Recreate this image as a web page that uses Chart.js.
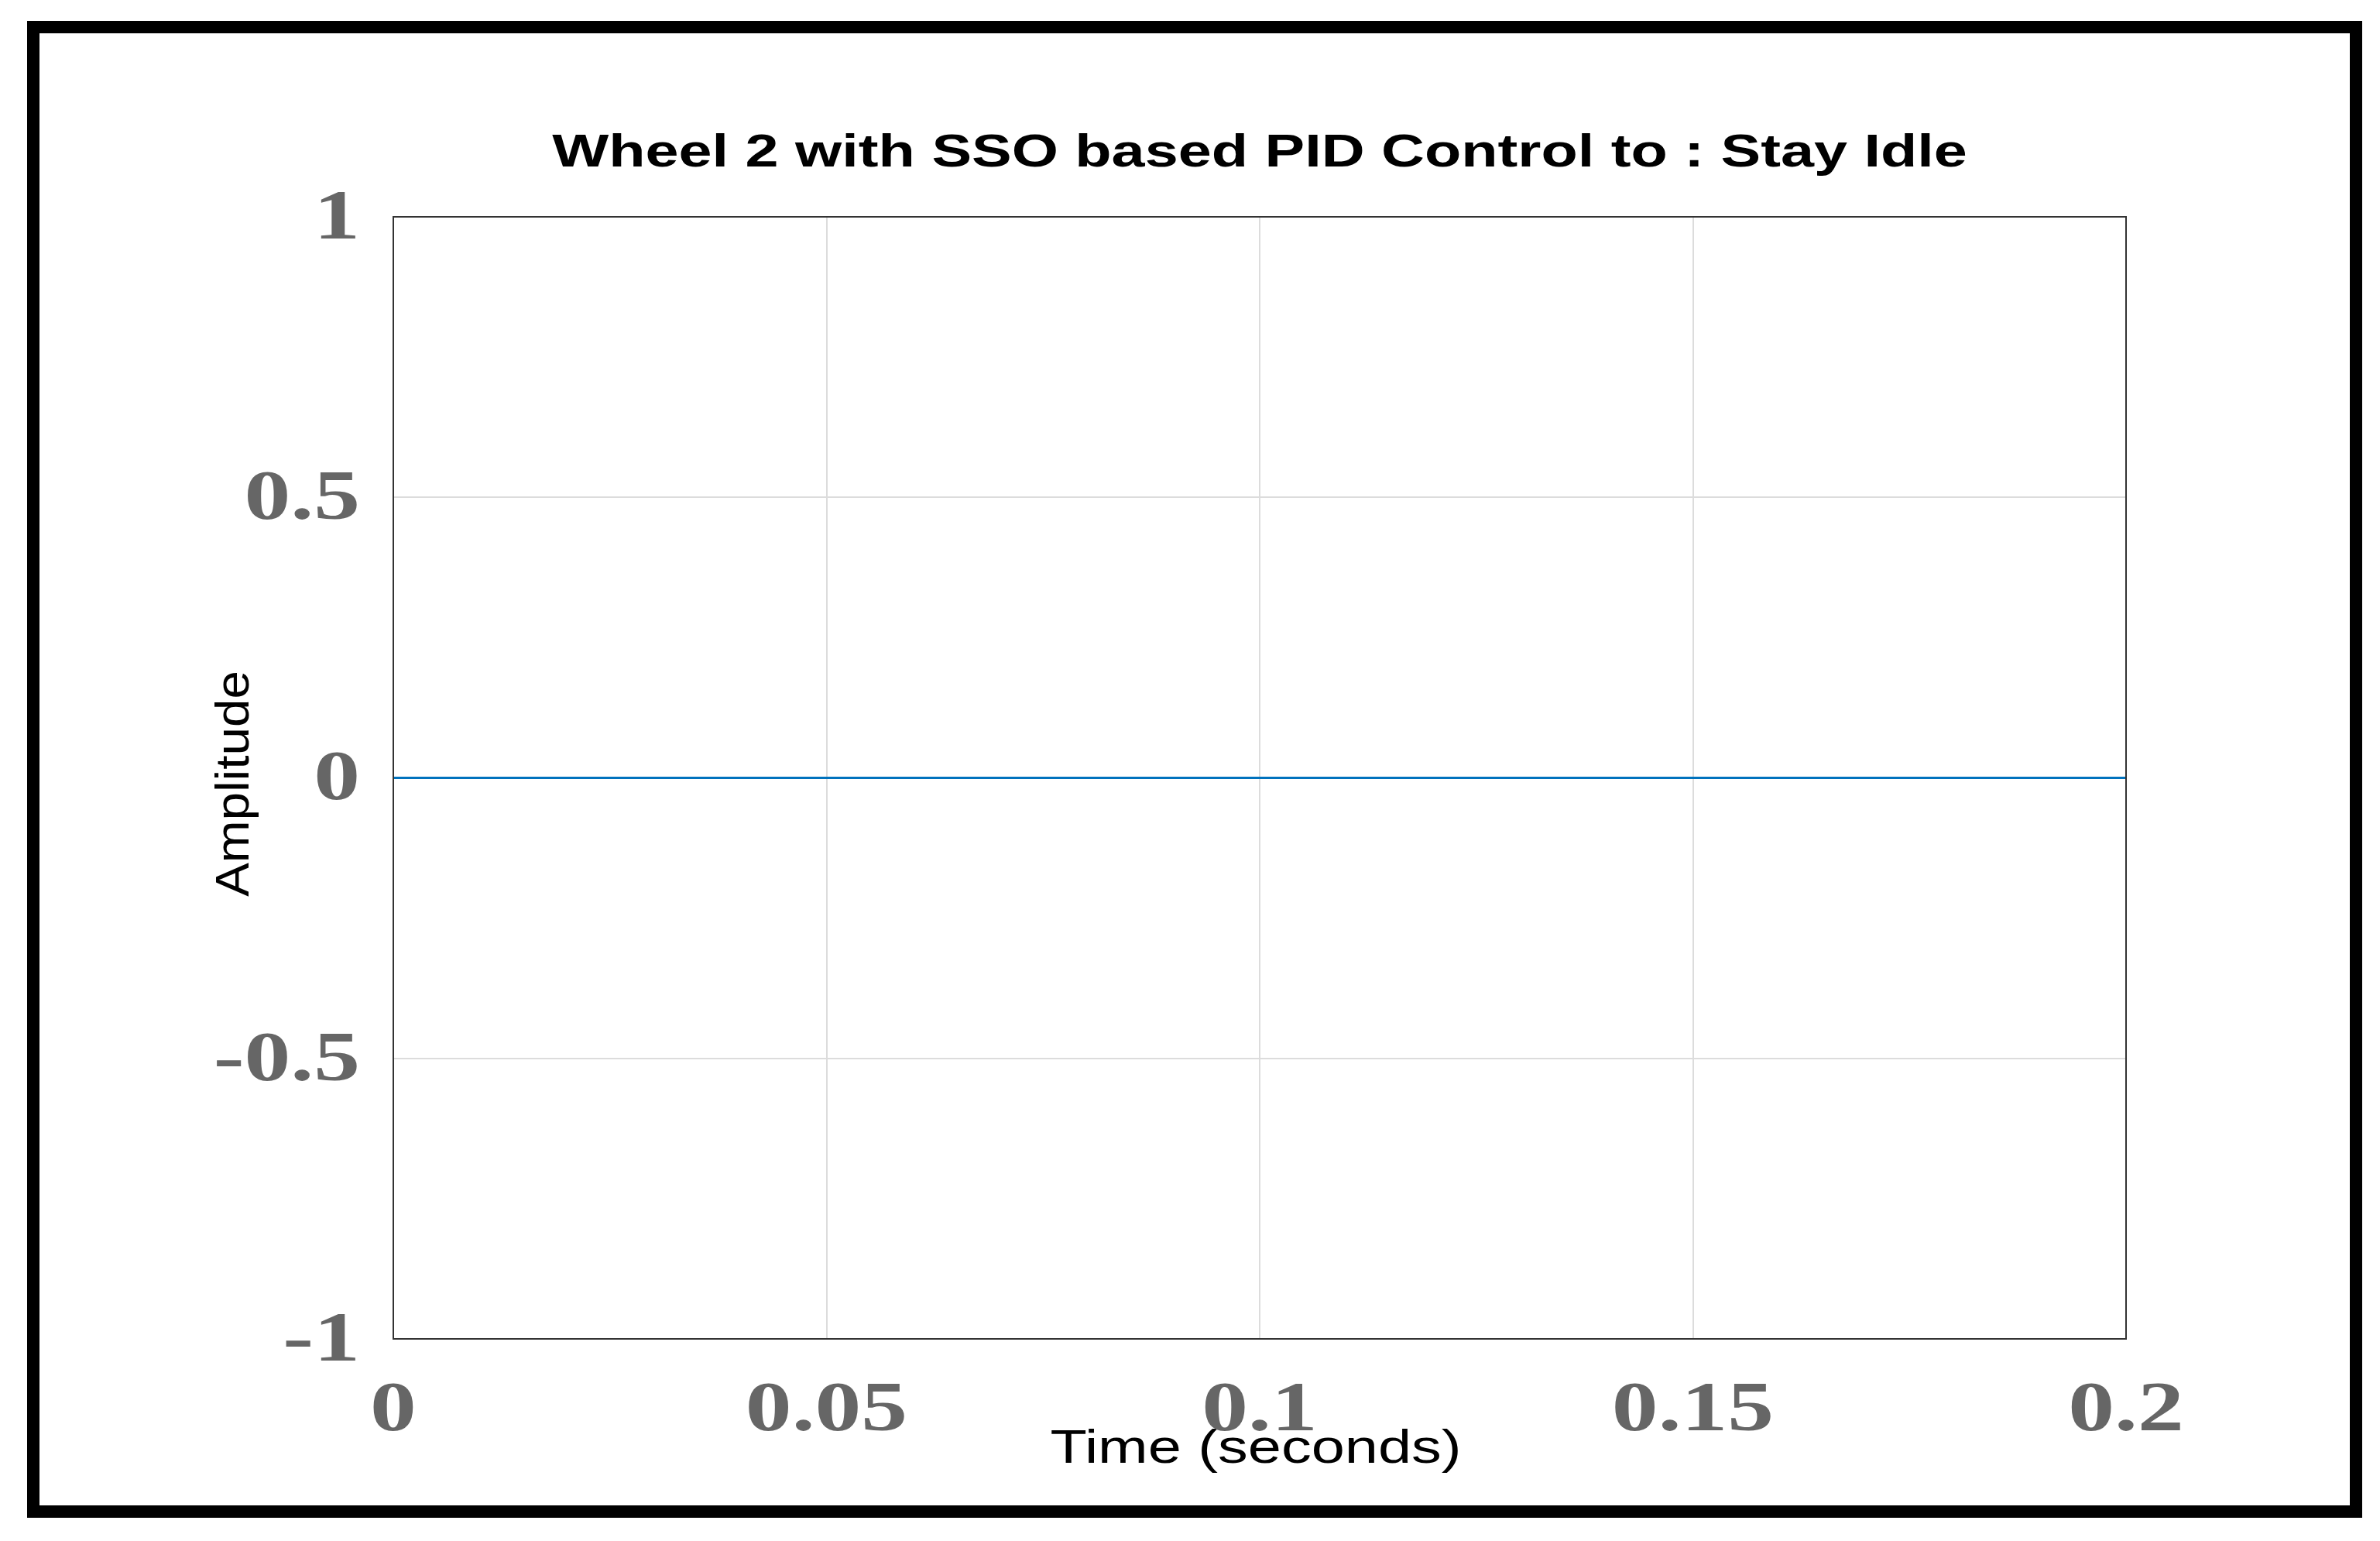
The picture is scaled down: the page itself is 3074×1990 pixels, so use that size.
<!DOCTYPE html>
<html><head><meta charset="utf-8">
<script src="https://cdn.jsdelivr.net/npm/chart.js@4"></script>
<style>html,body{margin:0;padding:0;background:#fff}canvas{display:block}</style>
</head><body>
<div style="width:3074px;height:1990px"><canvas id="c"></canvas></div>
<script>
const timeValues = [0, 0.05, 0.1, 0.15, 0.2];
const amplitudeValues = [0, 0, 0, 0, 0];
const xTicks = [0, 0.05, 0.1, 0.15, 0.2];
const yTicks = [-1, -0.5, 0, 0.5, 1];
const titleText = 'Wheel 2 with SSO based PID Control to : Stay Idle';
const xTitle = 'Time (seconds)';
const yTitle = 'Amplitude';

function stretchText(c, txt, x, y, sx, align) {
  c.save();
  c.translate(x, y); c.scale(sx, 1);
  c.textAlign = align;
  c.fillText(txt, 0, 0);
  c.restore();
}

const deco = {
  id: 'deco',
  afterDraw(chart) {
    const c = chart.ctx, a = chart.chartArea;
    const xs = chart.scales.x, ys = chart.scales.y;
    c.save();
    c.strokeStyle = '#000'; c.lineWidth = 16;
    c.strokeRect(43, 35, 3000, 1917);
    c.strokeStyle = '#333'; c.lineWidth = 2;
    c.strokeRect(a.left, a.top, a.right - a.left, a.bottom - a.top);
    c.textBaseline = 'middle';
    c.fillStyle = '#000';
    c.font = 'bold 60px "Liberation Sans", Arial, sans-serif';
    stretchText(c, titleText, (a.left + a.right) / 2, 198, 1.29, 'center');
    c.font = '62px "Liberation Sans", Arial, sans-serif';
    stretchText(c, xTitle, 1622, 1872, 1.25, 'center');
    c.save();
    c.translate(304, 1012); c.rotate(-Math.PI / 2);
    stretchText(c, yTitle, 0, 0, 1.06, 'center');
    c.restore();
    c.fillStyle = '#666';
    c.font = 'bold 92px "Liberation Serif", "Times New Roman", serif';
    xTicks.forEach(v => stretchText(c, String(v), xs.getPixelForValue(v), 1823, 1.3, 'center'));
    yTicks.forEach(v => stretchText(c, String(v), 465, ys.getPixelForValue(v) + 4, 1.3, 'right'));
    c.restore();
  }
};

new Chart(document.getElementById('c'), {
  type: 'line',
  data: { datasets: [{ data: timeValues.map((t, i) => ({ x: t, y: amplitudeValues[i] })),
    borderColor: '#0072BD', borderWidth: 3, pointRadius: 0, fill: false }] },
  options: {
    responsive: true, maintainAspectRatio: false, animation: false,
    layout: { padding: { left: 35, top: 280, right: 328, bottom: 0 } },
    plugins: { legend: { display: false }, tooltip: { enabled: false } },
    scales: {
      x: { type: 'linear', min: 0, max: 0.2,
        afterBuildTicks: s => { s.ticks = xTicks.map(v => ({ value: v })); },
        afterFit: s => { s.height = 261; },
        grid: { color: '#dcdcdc', lineWidth: 2, tickLength: 0 },
        border: { display: false },
        ticks: { display: false } },
      y: { min: -1, max: 1,
        afterBuildTicks: s => { s.ticks = yTicks.map(v => ({ value: v })); },
        afterFit: s => { s.width = 473; },
        grid: { color: '#dcdcdc', lineWidth: 2, tickLength: 0 },
        border: { display: false },
        ticks: { display: false } }
    }
  },
  plugins: [deco]
});
</script>
</body></html>
